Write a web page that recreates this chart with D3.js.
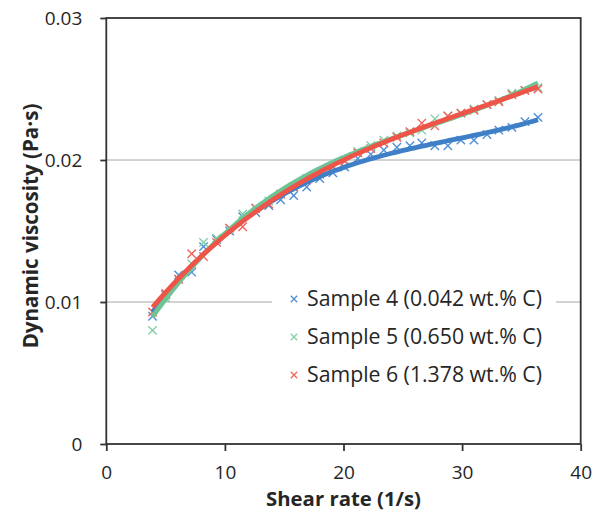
<!DOCTYPE html>
<html><head><meta charset="utf-8">
<script src="https://cdn.jsdelivr.net/npm/d3@7"></script>
<style>body{margin:0;background:#fff}svg{display:block}text{font-family:"Open Sans",Lato,sans-serif;fill:#262626}</style>
</head><body>
<script>
const shearRate = [3.9,5.0,6.1,7.2,8.2,9.3,10.4,11.5,12.6,13.7,14.7,15.8,16.9,18.0,19.1,20.1,21.2,22.3,23.4,24.5,25.6,26.6,27.7,28.8,29.9,31.0,32.1,33.1,34.2,35.3,36.4];
const sample4 = [0.0090,0.0105,0.0119,0.0121,0.0139,0.0144,0.0150,0.0160,0.0163,0.0168,0.0172,0.0175,0.0181,0.0187,0.0191,0.0195,0.0201,0.0204,0.0207,0.0209,0.0210,0.0212,0.0210,0.0210,0.0214,0.0214,0.0218,0.0221,0.0223,0.0227,0.0230];
const sample5 = [0.0080,0.0103,0.0116,0.0127,0.0142,0.0145,0.0152,0.0162,0.0166,0.0171,0.0176,0.0181,0.0187,0.0191,0.0196,0.0200,0.0206,0.0210,0.0214,0.0217,0.0219,0.0221,0.0229,0.0231,0.0233,0.0236,0.0239,0.0242,0.0247,0.0249,0.0251];
const sample6 = [0.0093,0.0106,0.0116,0.0134,0.0132,0.0142,0.0152,0.0153,0.0166,0.0169,0.0176,0.0181,0.0186,0.0190,0.0195,0.0199,0.0205,0.0208,0.0212,0.0216,0.0220,0.0226,0.0224,0.0231,0.0233,0.0235,0.0239,0.0241,0.0246,0.0249,0.0250];
const seriesNames = ["Sample 4 (0.042 wt.% C)","Sample 5 (0.650 wt.% C)","Sample 6 (1.378 wt.% C)"];
const xTicks = [0,10,20,30,40];
const yTicks = [0,0.01,0.02,0.03];
const yTickLabels = ["0","0.01","0.02","0.03"];
const xTitle = "Shear rate (1/s)";
const yTitle = "Dynamic viscosity (Pa·s)";

const markerColors = ["#4f8fd6","#82d1a5","#f2625a"];
const lineColors = ["#3f7fc8","#6fc496","#ef5449"];

const W=601,H=516;
const svg=d3.select("body").append("svg").attr("width",W).attr("height",H);
const x=d3.scaleLinear().domain([0,40]).range([106.3,580.7]);
const y=d3.scaleLinear().domain([0,0.03]).range([444,18]);

function fitWidth(sel,target,base){
  sel.attr("font-size",base);
  const w=sel.node().getComputedTextLength();
  if(w>0) sel.attr("font-size",base*target/w);
}

svg.append("g").selectAll("line").data([0.01,0.02]).join("line")
  .attr("x1",x(0)).attr("x2",x(40)).attr("y1",d=>y(d)).attr("y2",d=>y(d))
  .attr("stroke","#a6a6a6").attr("stroke-width",1);

function polyfit(xs,ys,deg){
  const n=deg+1, A=[...Array(n)].map(()=>Array(n+1).fill(0));
  xs.forEach((xv,i)=>{for(let r=0;r<n;r++){for(let c=0;c<n;c++)A[r][c]+=Math.pow(xv,r+c);A[r][n]+=ys[i]*Math.pow(xv,r);}});
  for(let i=0;i<n;i++){let p=i;for(let k=i+1;k<n;k++)if(Math.abs(A[k][i])>Math.abs(A[p][i]))p=k;[A[i],A[p]]=[A[p],A[i]];
    for(let k=0;k<n;k++){if(k===i)continue;const f=A[k][i]/A[i][i];for(let c=i;c<=n;c++)A[k][c]-=f*A[i][c];}}
  return A.map((r,i)=>r[n]/r[i]);
}
const data=[sample4,sample5,sample6];

const xm=4.2;
data.forEach((vals,si)=>{
  const g=svg.append("g").attr("stroke",markerColors[si]).attr("stroke-width",1.4).attr("fill","none");
  shearRate.forEach((sx,i)=>{
    const cx=x(sx),cy=y(vals[i]);
    g.append("path").attr("d",`M${cx-xm},${cy-xm}L${cx+xm},${cy+xm}M${cx-xm},${cy+xm}L${cx+xm},${cy-xm}`);
  });
});
data.forEach((vals,si)=>{
  const co=polyfit(shearRate,vals,3);
  const x0=d3.min(shearRate),x1=d3.max(shearRate);
  const pts=d3.range(0,101).map(k=>{const t=x0+(x1-x0)*k/100;return [t,co.reduce((s,c,j)=>s+c*Math.pow(t,j),0)];});
  svg.append("path").datum(pts).attr("fill","none").attr("stroke",lineColors[si]).attr("stroke-width",4.8)
    .attr("d",d3.line().x(d=>x(d[0])).y(d=>y(d[1])));
});

const fc="#333";
svg.append("rect").attr("x",x(0)).attr("y",y(0.03)).attr("width",x(40)-x(0)).attr("height",y(0)-y(0.03))
  .attr("fill","none").attr("stroke",fc).attr("stroke-width",1.8);
const xAxis=svg.append("g").attr("transform",`translate(0,${y(0)})`)
  .call(d3.axisBottom(x).tickValues(xTicks).tickSize(7).tickPadding(15).tickFormat(d3.format("d")));
const yAxis=svg.append("g").attr("transform",`translate(${x(0)},0)`)
  .call(d3.axisLeft(y).tickValues(yTicks).tickSize(6).tickPadding(18).tickFormat((d,i)=>yTickLabels[i]));
[xAxis,yAxis].forEach(a=>{a.select(".domain").remove();a.selectAll("line").attr("stroke",fc).attr("stroke-width",1.8);
  a.selectAll("text").attr("font-family","'Open Sans', Lato, sans-serif").attr("font-size",19).attr("fill","#262626");});

const xt=svg.append("text").attr("x",(x(0)+x(40))/2).attr("y",506).attr("text-anchor","middle")
  .attr("font-weight","bold").text(xTitle);
fitWidth(xt,155,18);
const yt=svg.append("text").attr("transform",`translate(38,${(y(0)+y(0.03))/2-5}) rotate(-90)`).attr("text-anchor","middle")
  .attr("font-weight","bold").text(yTitle);
fitWidth(yt,245,18);

const lg=svg.append("g");
lg.append("rect").attr("x",272).attr("y",283).attr("width",284).attr("height",108).attr("fill","#fff");
const rowsY=[299,337,375];
seriesNames.forEach((nm,i)=>{
  const cx=294,cy=rowsY[i],m=3.2;
  lg.append("path").attr("d",`M${cx-m},${cy-m}L${cx+m},${cy+m}M${cx-m},${cy+m}L${cx+m},${cy-m}`)
    .attr("stroke",markerColors[i]).attr("stroke-width",1.3);
  const t=lg.append("text").attr("x",307).attr("y",cy+7).text(nm);
  fitWidth(t,235,20);
});
</script>
</body></html>
